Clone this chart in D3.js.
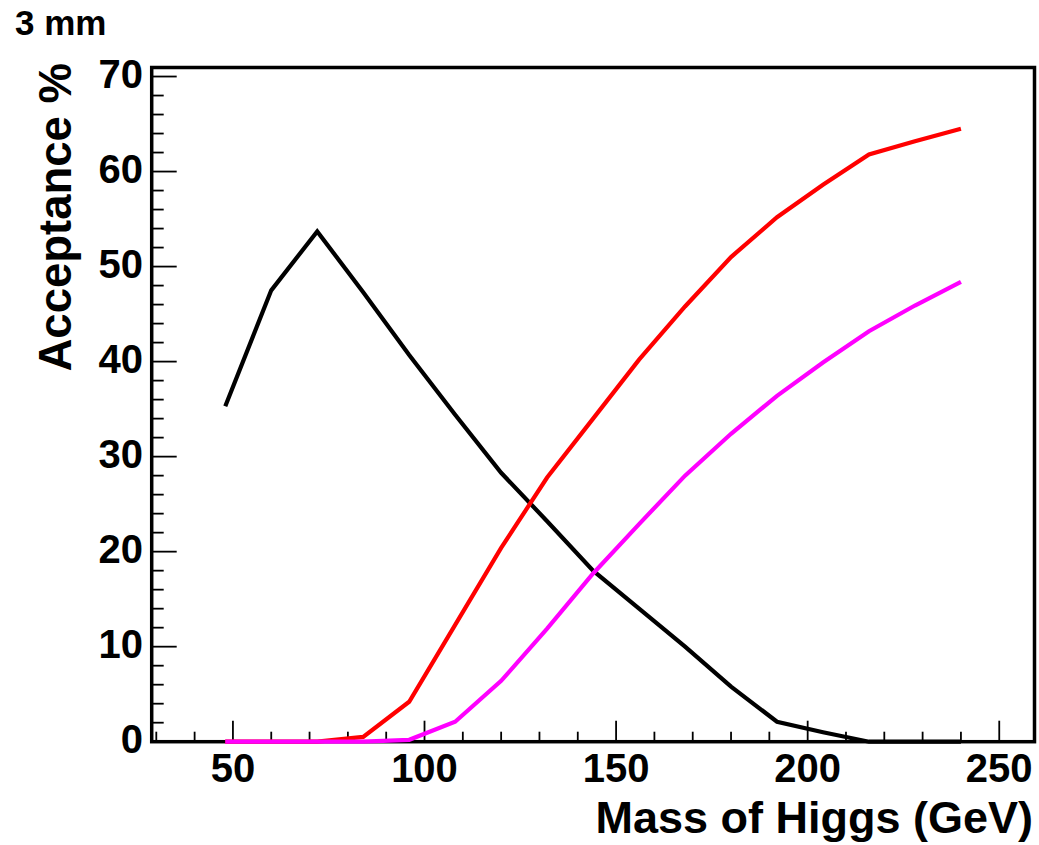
<!DOCTYPE html>
<html>
<head>
<meta charset="utf-8">
<script src="https://cdn.jsdelivr.net/npm/d3@7"></script>
<style>
  html, body { margin: 0; padding: 0; background: #fff; }
  svg { display: block; }
  text { font-family: "Liberation Sans", Arial, Helvetica, sans-serif; font-weight: bold; fill: #000; }
</style>
</head>
<body>
<svg id="chart" width="1039" height="845"></svg>
<script>
// Higgs mass points (GeV)
const masses = [48, 60, 72, 84, 96, 108, 120, 132, 144, 156, 168, 180, 192, 204, 216, 228, 240];

// Acceptance (%) per selection
const accBlack   = [35.3, 47.5, 53.7, 47.3, 40.7, 34.4, 28.3, 23.2, 18.0, 14.0, 10.0, 5.8, 2.1, 1.0, 0.0, 0.0, 0.0];
const accRed     = [0.0, 0.0, 0.0, 0.5, 4.2, 12.3, 20.4, 27.8, 34.0, 40.2, 45.8, 51.0, 55.2, 58.6, 61.8, 63.2, 64.5];
const accMagenta = [0.0, 0.0, 0.0, 0.0, 0.2, 2.1, 6.4, 11.9, 17.7, 22.9, 28.0, 32.4, 36.4, 39.9, 43.2, 45.9, 48.4];

const xMajorTicks = [50, 100, 150, 200, 250];
const yMajorTicks = [0, 10, 20, 30, 40, 50, 60, 70];

const series = [
  { name: "black",   color: "#000000", values: accBlack },
  { name: "red",     color: "#ff0000", values: accRed },
  { name: "magenta", color: "#ff00ff", values: accMagenta }
];

const svg = d3.select("#chart");

const frame = { left: 151.7, right: 1034.5, top: 67.5, bottom: 741.7 };

const x = d3.scaleLinear().domain([28.8, 259.2]).range([frame.left, frame.right]);
const y = d3.scaleLinear().domain([0, 70.95]).range([frame.bottom, frame.top]);

// Frame box
svg.append("rect")
  .attr("x", frame.left).attr("y", frame.top)
  .attr("width", frame.right - frame.left).attr("height", frame.bottom - frame.top)
  .attr("fill", "none").attr("stroke", "#000").attr("stroke-width", 3.5);

// X ticks: major every 50, minor every 10 (drawn upward from the bottom)
const xMinor = d3.range(30, 260, 10).filter(v => v % 50 !== 0);
const tickG = svg.append("g").attr("stroke", "#000").attr("stroke-width", 1.8);
tickG.selectAll(".xmaj").data(xMajorTicks).enter().append("line")
  .attr("x1", d => x(d)).attr("x2", d => x(d))
  .attr("y1", frame.bottom).attr("y2", frame.bottom - 21);
tickG.selectAll(".xmin").data(xMinor).enter().append("line")
  .attr("x1", d => x(d)).attr("x2", d => x(d))
  .attr("y1", frame.bottom).attr("y2", frame.bottom - 10);

// Y ticks: major every 10, minor every 2 (drawn rightward from the left)
const yMinor = d3.range(0, 71, 2).filter(v => v % 10 !== 0);
tickG.selectAll(".ymaj").data(yMajorTicks).enter().append("line")
  .attr("x1", frame.left).attr("x2", frame.left + 25)
  .attr("y1", d => y(d)).attr("y2", d => y(d));
tickG.selectAll(".ymin").data(yMinor).enter().append("line")
  .attr("x1", frame.left).attr("x2", frame.left + 12)
  .attr("y1", d => y(d)).attr("y2", d => y(d));

// Tick labels
svg.append("g").selectAll("text").data(xMajorTicks).enter().append("text")
  .attr("x", d => x(d)).attr("y", 782)
  .attr("text-anchor", "middle").attr("font-size", 40)
  .text(d => d);

svg.append("g").selectAll("text").data(yMajorTicks).enter().append("text")
  .attr("x", 143).attr("y", d => y(d) + 11)
  .attr("text-anchor", "end").attr("font-size", 40)
  .text(d => d);

// Curves
const line = d3.line()
  .x((d, i) => x(masses[i]))
  .y(d => y(d));

svg.append("g").selectAll("path").data(series).enter().append("path")
  .attr("d", s => line(s.values))
  .attr("fill", "none")
  .attr("stroke", s => s.color)
  .attr("stroke-width", 4.2)
  .attr("stroke-linejoin", "miter");

// Axis titles
svg.append("text")
  .attr("x", 1033).attr("y", 833)
  .attr("text-anchor", "end").attr("font-size", 45)
  .text("Mass of Higgs (GeV)");

svg.append("text")
  .attr("transform", "translate(71,63) rotate(-90)")
  .attr("text-anchor", "end").attr("font-size", 45.5)
  .text("Acceptance %");

// Pad label
svg.append("text")
  .attr("x", 15).attr("y", 35)
  .attr("font-size", 35)
  .text("3 mm");
</script>
</body>
</html>
